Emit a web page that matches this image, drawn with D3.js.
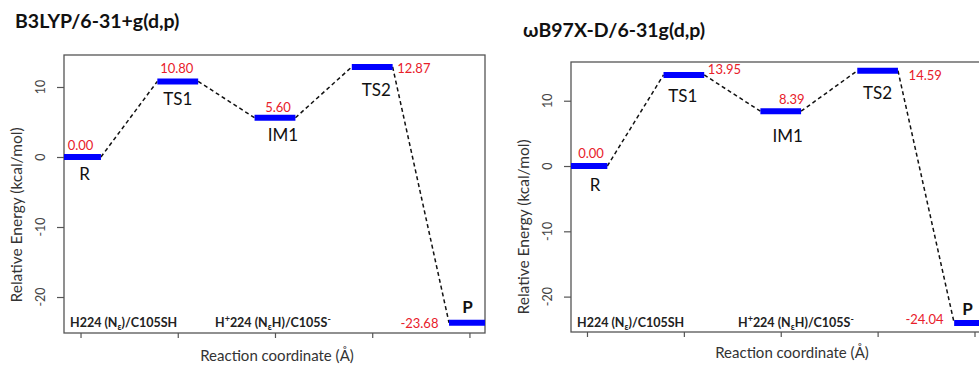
<!DOCTYPE html>
<html>
<head>
<meta charset="utf-8">
<script src="https://cdn.jsdelivr.net/npm/d3@7"></script>
<style>
  body { margin: 0; background: #fff; }
  svg { display: block; }
  text { font-family: Lato, "Open Sans", sans-serif; }
</style>
</head>
<body>
<svg id="chart"></svg>
<script>
// data read from the two energy profiles
var stages = ['R', 'TS1', 'IM1', 'TS2', 'P'];
var stagePos = [1, 2, 3, 4, 5];
var b3lypEnergy = [0.00, 10.80, 5.60, 12.87, -23.68];
var wb97xdEnergy = [0.00, 13.95, 8.39, 14.59, -24.04];
var yTickValues = [-20, -10, 0, 10];
var panelTitles = ['B3LYP/6-31+g(d,p)', 'ωB97X-D/6-31g(d,p)'];

var svgWidth = 979, svgHeight = 365;
var halfBar = 0.21;

var svg = d3.select('#chart')
  .attr('width', svgWidth)
  .attr('height', svgHeight);

var panels = [
  {
    title: panelTitles[0], energy: b3lypEnergy,
    box: [64, 485, 55, 333], xDomain: [0.83, 5.16], yDomain: [-25.14, 14.57],
    titleXY: [15, 28], tickLabelX: 45, yLabelXY: [22, 215], xLabelXY: [277, 361],
    stateXY: [[70, 327], [215, 327]],
    valueOff: [[0, -7, 'middle'], [-1, -8, 'middle'], [3, -6, 'middle'], [25, 6, 'start'], [-31, 5, 'end']],
    nameOff: [[4, 23], [0, 24], [8, 23], [4, 29], [-2, -10]]
  },
  {
    title: panelTitles[1], energy: wb97xdEnergy,
    box: [571, 990, 62, 332], xDomain: [0.835, 5.16], yDomain: [-25.42, 15.93],
    titleXY: [523, 37], tickLabelX: 552, yLabelXY: [529, 227], xLabelXY: [792, 358],
    stateXY: [[577, 327], [738, 327]],
    valueOff: [[4, -8, 'middle'], [24, -1, 'start'], [11, -7, 'middle'], [31, 9, 'start'], [-31, 1, 'end']],
    nameOff: [[8, 25], [-1, 27], [7, 31], [0, 28], [-7, -8]]
  }
];

var fmt = function(d) { return d3.format('.2f')(d).replace('−', '-'); };

panels.forEach(function(p, pi) {
  var x = d3.scaleLinear().domain(p.xDomain).range([p.box[0], p.box[1]]);
  var y = d3.scaleLinear().domain(p.yDomain).range([p.box[3], p.box[2]]);
  var g = svg.append('g');

  var clipId = 'clip' + pi;
  g.append('clipPath').attr('id', clipId)
    .append('rect')
    .attr('x', p.box[0]).attr('y', p.box[2])
    .attr('width', p.box[1] - p.box[0]).attr('height', p.box[3] - p.box[2]);

  // title
  g.append('text')
    .attr('x', p.titleXY[0]).attr('y', p.titleXY[1])
    .attr('font-size', 19.5).attr('font-weight', 'bold').attr('fill', '#111')
    .text(p.title);

  // y axis
  var yAxis = g.append('g')
    .attr('transform', 'translate(' + p.box[0] + ',0)')
    .call(d3.axisLeft(y).tickValues(yTickValues).tickSize(7).tickFormat(d3.format('d')));
  yAxis.select('.domain').remove();
  yAxis.selectAll('line').attr('stroke', '#555').attr('stroke-width', 1.2);
  yAxis.selectAll('text').remove();
  g.selectAll('.ytl')
    .data(yTickValues)
    .enter()
    .append('text')
    .attr('transform', function(d) { return 'translate(' + p.tickLabelX + ',' + y(d) + ') rotate(-90)'; })
    .attr('text-anchor', 'middle')
    .attr('font-family', 'Liberation Sans, Arial, sans-serif')
    .attr('font-size', 12.5).attr('fill', '#444')
    .text(function(d) { return d; });

  // x axis ticks
  var xAxis = g.append('g')
    .attr('transform', 'translate(0,' + p.box[3] + ')')
    .call(d3.axisBottom(x).tickValues(stagePos).tickSize(5).tickFormat(''));
  xAxis.select('.domain').remove();
  xAxis.selectAll('line').attr('stroke', '#555').attr('stroke-width', 1.2);

  // box
  g.append('rect')
    .attr('x', p.box[0]).attr('y', p.box[2])
    .attr('width', p.box[1] - p.box[0]).attr('height', p.box[3] - p.box[2])
    .attr('fill', 'none').attr('stroke', '#555').attr('stroke-width', 1.3);

  // axis titles
  g.append('text')
    .attr('transform', 'translate(' + p.yLabelXY[0] + ',' + p.yLabelXY[1] + ') rotate(-90)')
    .attr('text-anchor', 'middle').attr('font-size', 15.5).attr('fill', '#333')
    .text('Relative Energy (kcal/mol)');
  g.append('text')
    .attr('x', p.xLabelXY[0]).attr('y', p.xLabelXY[1])
    .attr('text-anchor', 'middle').attr('font-size', 15).attr('fill', '#333')
    .text('Reaction coordinate (Å)');

  var plot = g.append('g').attr('clip-path', 'url(#' + clipId + ')');

  // dashed connectors
  var links = d3.range(stages.length - 1);
  plot.selectAll('.link')
    .data(links)
    .enter()
    .append('line')
    .attr('x1', function(i) { return x(stagePos[i] + halfBar); })
    .attr('y1', function(i) { return y(p.energy[i]); })
    .attr('x2', function(i) { return x(stagePos[i + 1] - halfBar); })
    .attr('y2', function(i) { return y(p.energy[i + 1]); })
    .attr('stroke', '#111').attr('stroke-width', 1.5)
    .attr('stroke-dasharray', '4,3');

  // levels
  plot.selectAll('.level')
    .data(p.energy)
    .enter()
    .append('line')
    .attr('x1', function(d, i) { return x(stagePos[i] - halfBar); })
    .attr('x2', function(d, i) { return x(stagePos[i] + halfBar); })
    .attr('y1', function(d) { return y(d); })
    .attr('y2', function(d) { return y(d); })
    .attr('stroke', '#0000ff').attr('stroke-width', 6);

  // value labels
  g.selectAll('.val')
    .data(p.energy)
    .enter()
    .append('text')
    .attr('x', function(d, i) { return x(stagePos[i]) + p.valueOff[i][0]; })
    .attr('y', function(d, i) { return y(d) + p.valueOff[i][1]; })
    .attr('text-anchor', function(d, i) { return p.valueOff[i][2]; })
    .attr('font-size', 13).attr('fill', '#e8202a')
    .text(fmt);

  // stage labels
  g.selectAll('.name')
    .data(stages)
    .enter()
    .append('text')
    .attr('x', function(d, i) { return x(stagePos[i]) + p.nameOff[i][0]; })
    .attr('y', function(d, i) { return y(p.energy[i]) + p.nameOff[i][1]; })
    .attr('text-anchor', 'middle')
    .attr('font-size', 17)
    .attr('font-weight', function(d) { return d === 'P' ? 'bold' : 'normal'; })
    .attr('fill', '#111')
    .text(function(d) { return d; });

  // protonation states
  var s1 = g.append('text')
    .attr('x', p.stateXY[0][0]).attr('y', p.stateXY[0][1])
    .attr('font-size', 12.5).attr('font-weight', 'bold').attr('fill', '#222');
  s1.append('tspan').text('H224 (N');
  s1.append('tspan').attr('font-size', 9).attr('dy', 3).text('ε');
  s1.append('tspan').attr('dy', -3).text(')/C105SH');

  var s2 = g.append('text')
    .attr('x', p.stateXY[1][0]).attr('y', p.stateXY[1][1])
    .attr('font-size', 12.5).attr('font-weight', 'bold').attr('fill', '#222');
  s2.append('tspan').text('H');
  s2.append('tspan').attr('font-size', 9).attr('dy', -5).text('+');
  s2.append('tspan').attr('dy', 5).text('224 (N');
  s2.append('tspan').attr('font-size', 9).attr('dy', 3).text('ε');
  s2.append('tspan').attr('dy', -3).text('H)/C105S');
  s2.append('tspan').attr('font-size', 9).attr('dy', -5).text('-');
});
</script>
</body>
</html>
